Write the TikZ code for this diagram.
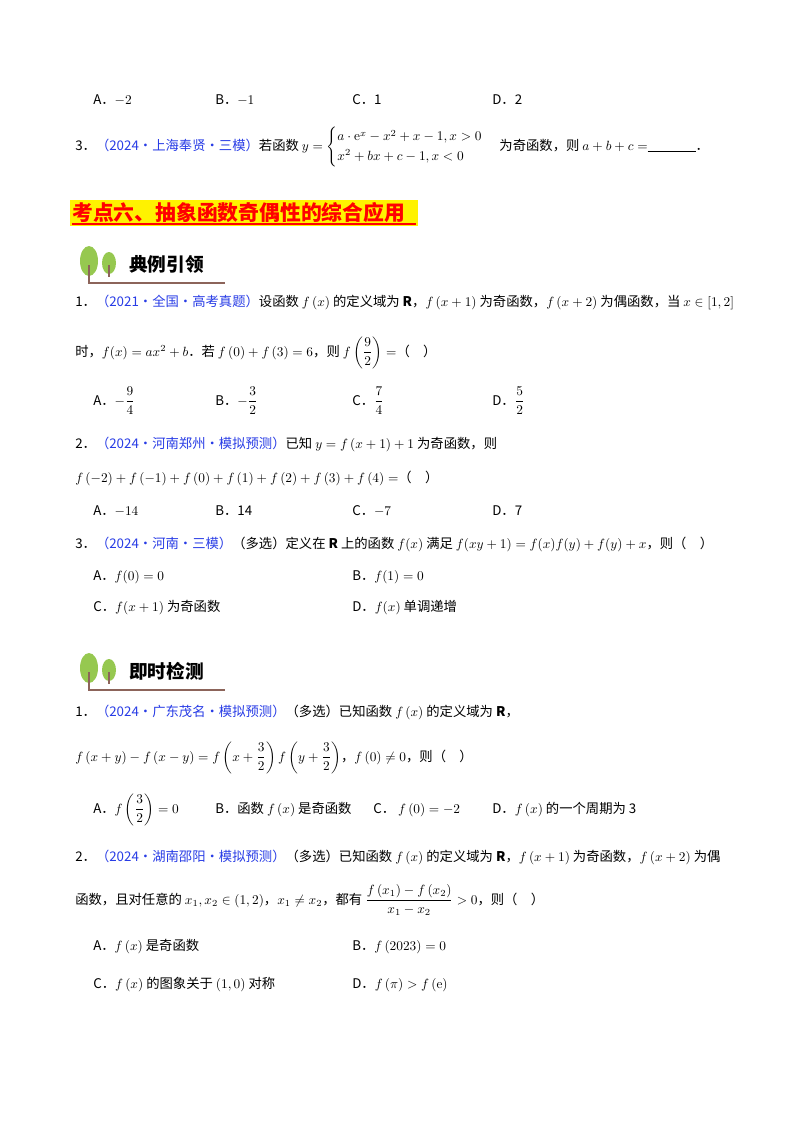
\documentclass[tikz,border=0pt]{standalone}
\usepackage{amsmath,amssymb}
\usepackage[no-math]{fontspec}
\setmainfont{Noto Sans CJK SC}
\definecolor{srcblue}{RGB}{40,60,230}
\definecolor{leaf}{RGB}{150,200,80}
\definecolor{trunk}{RGB}{140,100,90}
\begin{document}
\begin{tikzpicture}[x=0.75pt,y=-0.75pt,
  txt/.style={anchor=base west,inner sep=0pt,font=\fontsize{10}{12}\selectfont},
  icontitle/.style={anchor=base west,inner sep=0pt,font=\fontsize{14}{16}\selectfont\bfseries}]
\useasboundingbox (0,0) rectangle (800,1132);
\fill[white] (0,0) rectangle (800,1132);
% row 1
\node[txt] (a0) at (93,104) {A．$-2$};
\node[txt] (b0) at (215,104) {B．$-1$};
\node[txt] (c0) at (352,104) {C．1};
\node[txt] (d0) at (492,104) {D．2};
\node[txt] (q3) at (75,150) {3．\textcolor{srcblue}{（2024·上海奉贤·三模）}若函数 $y=\begin{cases}a\cdot \mathrm{e}^x-x^2+x-1,x>0\\ x^2+bx+c-1,x<0\end{cases}$ 为奇函数，则 $a+b+c=$\rule[-1pt]{36pt}{0.6pt}．};
% heading
\fill[yellow] (70,200) rectangle (418,226);
\node[anchor=base west,inner sep=0pt,text=red,font=\fontsize{15.6}{18}\selectfont\bfseries] (hd) at (72,220) {考点六、抽象函数奇偶性的综合应用};
\draw[red,line width=1pt] (72,224) -- (416,224);
% icons
\foreach \yy/\lbl/\nm in {265/典例引领/ic1, 672/即时检测/ic2}{
  \fill[leaf] (89,\yy-4) ellipse (9 and 15);
  \fill[leaf] (109,\yy-2) ellipse (7 and 11);
  \draw[trunk,line width=1pt] (89,\yy) -- (89,\yy+18) -- (225,\yy+18);
  \draw[trunk,line width=0.8pt] (109,\yy) -- (109,\yy+12);
  \node[icontitle] (\nm) at (129,\yy+6) {\lbl};
}
% example 1
\node[txt] (e1) at (75,306) {1．\textcolor{srcblue}{（2021·全国·高考真题）}设函数 $f\left(x\right)$ 的定义域为 \textbf{R}，$f\left(x+1\right)$ 为奇函数，$f\left(x+2\right)$ 为偶函数，当 $x\in\left[1,2\right]$};
\node[txt] (e1b) at (75,356) {时，$f(x)=ax^2+b$．若 $f\left(0\right)+f\left(3\right)=6$，则 $f\left(\dfrac{9}{2}\right)=$（\quad）};
\node[txt] (e1A) at (93,405) {A．$-\dfrac{9}{4}$};
\node[txt] (e1B) at (215,405) {B．$-\dfrac{3}{2}$};
\node[txt] (e1C) at (352,405) {C．$\dfrac{7}{4}$};
\node[txt] (e1D) at (492,405) {D．$\dfrac{5}{2}$};
% example 2
\node[txt] (e2) at (75,448) {2．\textcolor{srcblue}{（2024·河南郑州·模拟预测）}已知 $y=f\left(x+1\right)+1$ 为奇函数，则};
\node[txt] (e2b) at (75,482) {$f\left(-2\right)+f\left(-1\right)+f\left(0\right)+f\left(1\right)+f\left(2\right)+f\left(3\right)+f\left(4\right)=$（\quad）};
\node[txt] (e2A) at (93,515) {A．$-14$};
\node[txt] (e2B) at (215,515) {B．14};
\node[txt] (e2C) at (352,515) {C．$-7$};
\node[txt] (e2D) at (492,515) {D．7};
% example 3
\node[txt] (e3) at (75,548) {3．\textcolor{srcblue}{（2024·河南·三模）}（多选）定义在 \textbf{R} 上的函数 $f(x)$ 满足 $f(xy+1)=f(x)f(y)+f(y)+x$，则（\quad）};
\node[txt] (e3A) at (93,580) {A．$f(0)=0$};
\node[txt] (e3B) at (352,580) {B．$f(1)=0$};
\node[txt] (e3C) at (93,611) {C．$f(x+1)$ 为奇函数};
\node[txt] (e3D) at (352,611) {D．$f(x)$ 单调递增};
% test 1
\node[txt] (t1) at (75,716) {1．\textcolor{srcblue}{（2024·广东茂名·模拟预测）}（多选）已知函数 $f\left(x\right)$ 的定义域为 \textbf{R}，};
\node[txt] (t1b) at (75,761) {$f\left(x+y\right)-f\left(x-y\right)=f\left(x+\dfrac{3}{2}\right)f\left(y+\dfrac{3}{2}\right)$，$f\left(0\right)\neq0$，则（\quad）};
\node[txt] (t1A) at (93,813) {A．$f\left(\dfrac{3}{2}\right)=0$};
\node[txt] (t1B) at (215,813) {B．函数 $f\left(x\right)$ 是奇函数};
\node[txt] (t1C) at (373,813) {C．\ $f\left(0\right)=-2$};
\node[txt] (t1D) at (492,813) {D．$f\left(x\right)$ 的一个周期为 3};
% test 2
\node[txt] (t2) at (75,861) {2．\textcolor{srcblue}{（2024·湖南邵阳·模拟预测）}（多选）已知函数 $f\left(x\right)$ 的定义域为 \textbf{R}，$f\left(x+1\right)$ 为奇函数，$f\left(x+2\right)$ 为偶};
\node[txt] (t2b) at (75,904) {函数，且对任意的 $x_1,x_2\in\left(1,2\right)$，$x_1\neq x_2$，都有 $\dfrac{f\left(x_1\right)-f\left(x_2\right)}{x_1-x_2}>0$，则（\quad）};
\node[txt] (t2A) at (93,950) {A．$f\left(x\right)$ 是奇函数};
\node[txt] (t2B) at (352,950) {B．$f\left(2023\right)=0$};
\node[txt] (t2C) at (93,988) {C．$f\left(x\right)$ 的图象关于 $\left(1,0\right)$ 对称};
\node[txt] (t2D) at (352,988) {D．$f\left(\pi\right)>f\left(\mathrm{e}\right)$};
\end{tikzpicture}
\end{document}
